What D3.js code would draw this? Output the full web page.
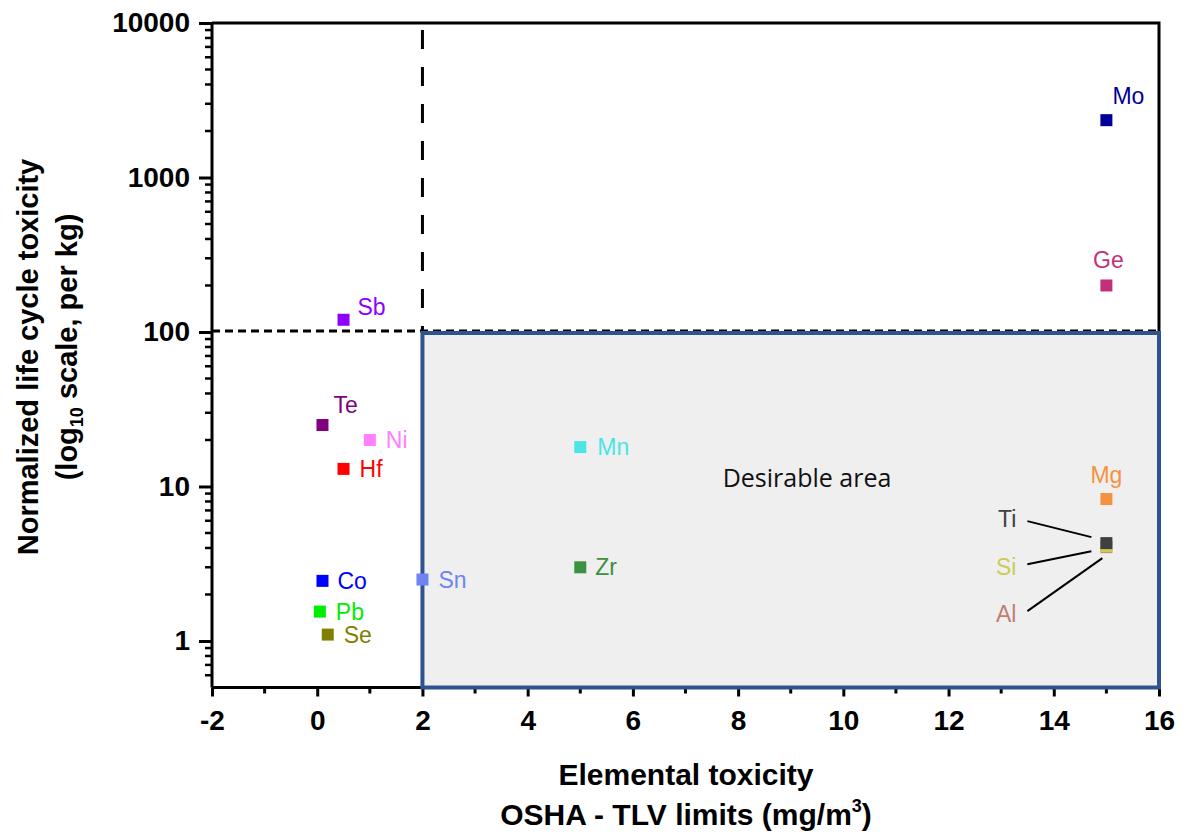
<!DOCTYPE html>
<html><head><meta charset="utf-8">
<script src="https://cdn.jsdelivr.net/npm/d3@7"></script>
<style>body{margin:0;background:#fff} svg{display:block;background:#fff}</style>
</head><body><svg id="c" width="1188" height="836"></svg>
<script>
// ---- data ----
const elements = ["Sb","Te","Ni","Hf","Mn","Co","Sn","Zr","Pb","Se","Mo","Ge","Mg","Al","Si","Ti"];
const oshaLimits = [0.5,0.1,1,0.5,5,0.1,2,5,0.05,0.2,15,15,15,15,15,15];
const lifeCycleToxicity = [120,25,20,13,18,2.45,2.5,3,1.55,1.1,2350,200,8.3,4.05,4.1,4.3];
const xTickValues = [-2,0,2,4,6,8,10,12,14,16];
const yTickValues = [1,10,100,1000,10000];
const toxicityThreshold = 100;
const oshaThreshold = 2;
const areaLabel = "Desirable area";

// ---- styles / annotation placement ----
const colors = {Sb:"#8b00ff",Te:"#800080",Ni:"#ff80ff",Hf:"#ff0000",Mn:"#4ae6e6",Co:"#0000ff",Sn:"#6f84f2",
  Zr:"#3c9140",Pb:"#00ee00",Se:"#808000",Mo:"#000099",Ge:"#c2307a",Mg:"#f59240",Al:"#c08070",Si:"#cccc55",Ti:"#404040"};
const labelPos = {Sb:[14,-13,"start"],Te:[11,-20,"start"],Ni:[16,0,"start"],Hf:[16,0,"start"],Mn:[17,0,"start"],
  Co:[15,0,"start"],Sn:[16,0,"start"],Zr:[15,0,"start"],Pb:[16,0,"start"],Se:[16,0,"start"],Mo:[6,-24,"start"],
  Ge:[2,-26,"middle"],Mg:[0,-24,"middle"],Ti:[-90,-24,"end"],Si:[-90,21,"end"],Al:[-90,67,"end"]};
const leaders = {Ti:[11,2,-15,-6],Si:[11,-3,-15,5],Al:[11,-3,-4,11]};

const svg = d3.select("#c");
const x = d3.scaleLinear().domain([-2,16]).range([212,1159]);
const y = d3.scaleLog().domain([0.5,10000]).range([687.5,23]);
const X0 = x(-2), X1 = x(16), Y0 = y(0.5), Y1 = y(10000);

// horizontal dashed threshold
svg.append("line").attr("x1",X0).attr("x2",X1).attr("y1",y(toxicityThreshold)-1).attr("y2",y(toxicityThreshold)-1)
  .attr("stroke","#000").attr("stroke-width",3).attr("stroke-dasharray","8,5");
// vertical dashed threshold
svg.append("line").attr("x1",x(oshaThreshold)).attr("x2",x(oshaThreshold)).attr("y1",Y1+7).attr("y2",y(toxicityThreshold))
  .attr("stroke","#000").attr("stroke-width",3).attr("stroke-dasharray","19,18");

// frame top/right
svg.append("path").attr("d",`M${X0},${Y1}H${X1}V${Y0}`).attr("fill","none").attr("stroke","#000").attr("stroke-width",3);

// axes
const fontB = "'Liberation Sans',Arial,sans-serif";
const xAxis = d3.axisBottom(x).tickValues(xTickValues).tickFormat(d=>String(d)).tickSize(9).tickPadding(14);
const gx = svg.append("g").attr("transform",`translate(0,${Y0})`).call(xAxis);
gx.select(".domain").attr("stroke-width",3).attr("d",`M${X0},0H${X1}`);
gx.selectAll(".tick line").attr("stroke-width",3);
gx.selectAll("text").attr("font-family",fontB).attr("font-weight","bold").attr("font-size",28).attr("fill","#000");
// minor x ticks
svg.append("g").selectAll("line").data(d3.range(-1,16,2)).join("line")
  .attr("x1",d=>x(d)).attr("x2",d=>x(d)).attr("y1",Y0).attr("y2",Y0+6).attr("stroke","#000").attr("stroke-width",3);

const yAxis = d3.axisLeft(y).tickValues(yTickValues).tickFormat(d=>String(d)).tickSize(13).tickPadding(9);
const gy = svg.append("g").attr("transform",`translate(${X0},0)`).call(yAxis);
gy.select(".domain").attr("stroke-width",3).attr("d",`M0,${Y0}V${Y1}`);
gy.selectAll(".tick line").attr("stroke-width",3);
gy.selectAll("text").attr("font-family",fontB).attr("font-weight","bold").attr("font-size",28).attr("fill","#000");
// minor y ticks
const minorY = [];
[0.1,1,10,100,1000].forEach(b=>{for(let k=2;k<=9;k++){const v=b*k; if(v>0.5&&v<10000) minorY.push(v);}});
svg.append("g").selectAll("line").data(minorY).join("line")
  .attr("x1",X0-7).attr("x2",X0).attr("y1",d=>y(d)).attr("y2",d=>y(d)).attr("stroke","#000").attr("stroke-width",2.5);

// desirable area
svg.append("rect").attr("x",x(oshaThreshold)).attr("y",y(toxicityThreshold)+1)
  .attr("width",x(16)-x(oshaThreshold)).attr("height",Y0-y(toxicityThreshold)-1)
  .attr("fill","#efefef").attr("stroke","#2f5290").attr("stroke-width",4);
svg.append("text").attr("x",807).attr("y",478).attr("dy","0.35em").attr("text-anchor","middle")
  .attr("font-family","'Open Sans','Noto Sans',sans-serif").attr("font-size",25).attr("fill","#111").text(areaLabel);

// points
const pts = elements.map((e,i)=>({e, xv:oshaLimits[i], yv:lifeCycleToxicity[i]}));
svg.append("g").selectAll("rect").data(pts).join("rect")
  .attr("x",d=>x(d.xv)-6).attr("y",d=>y(d.yv)-6).attr("width",12).attr("height",12)
  .attr("fill",d=>colors[d.e]);

// labels
const fontR = "'Liberation Sans',Arial,sans-serif";
svg.append("g").selectAll("text").data(pts).join("text")
  .attr("x",d=>x(d.xv)+labelPos[d.e][0]).attr("y",d=>y(d.yv)+labelPos[d.e][1]).attr("dy","0.35em")
  .attr("text-anchor",d=>labelPos[d.e][2]).attr("font-family",fontR).attr("font-size",23)
  .attr("fill",d=>colors[d.e]).text(d=>d.e);
// leader lines
svg.append("g").selectAll("line").data(pts.filter(d=>leaders[d.e])).join("line")
  .attr("x1",d=>x(d.xv)+labelPos[d.e][0]+leaders[d.e][0]).attr("y1",d=>y(d.yv)+labelPos[d.e][1]+leaders[d.e][1])
  .attr("x2",d=>x(d.xv)+leaders[d.e][2]).attr("y2",d=>y(d.yv)+leaders[d.e][3])
  .attr("stroke","#000").attr("stroke-width",2);

// axis titles
const xt = svg.append("text").attr("x",686).attr("text-anchor","middle").attr("font-family",fontB)
  .attr("font-weight","bold").attr("font-size",30).attr("fill","#000");
xt.append("tspan").attr("x",686).attr("y",785).text("Elemental toxicity");
const l2 = xt.append("tspan").attr("x",686).attr("y",825);
l2.append("tspan").text("OSHA - TLV limits (mg/m");
l2.append("tspan").attr("font-size",18).attr("dy",-13).text("3");
l2.append("tspan").attr("dy",13).text(")");

const yt = svg.append("text").attr("transform","translate(0,357) rotate(-90)").attr("text-anchor","middle")
  .attr("font-family",fontB).attr("font-weight","bold").attr("font-size",29).attr("fill","#000");
yt.append("tspan").attr("x",0).attr("y",38).text("Normalized life cycle toxicity");
const y2 = yt.append("tspan").attr("x",10).attr("y",77);
y2.append("tspan").text("(log");
y2.append("tspan").attr("font-size",18).attr("dy",6).text("10");
y2.append("tspan").attr("dy",-6).text(" scale, per kg)");
</script></body></html>
